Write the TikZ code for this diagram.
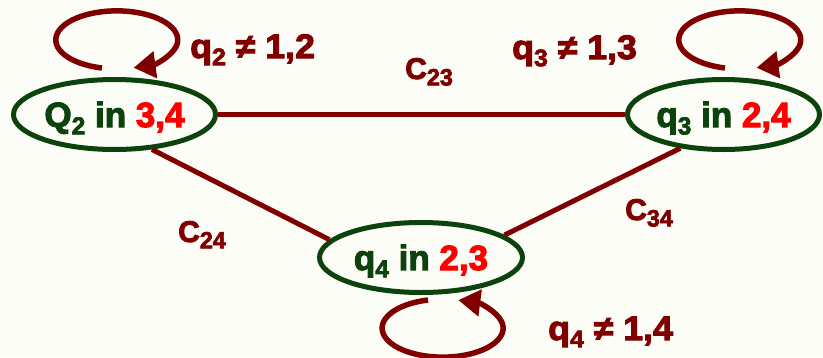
\documentclass[tikz,border=0pt]{standalone}
\usepackage{fontspec}
\setmainfont{Liberation Sans}
\newfontfamily\nodefont{Liberation Sans Bold}[FakeBold=3]
\newfontfamily\lblfont{Liberation Sans Bold}[FakeStretch=1.05, FakeBold=3]
\usetikzlibrary{shapes.geometric,arrows.meta}
\definecolor{maroon}{RGB}{128,0,0}
\definecolor{dgreen}{RGB}{12,66,12}
\definecolor{bgc}{RGB}{253,253,248}
\newcommand{\sub}[2][0.7]{\raisebox{-0.21em}{\scalebox{#1}{#2}}}
\newcommand{\hl}[1]{\textcolor{red}{#1}}
\tikzset{
  state/.style={ellipse, draw=dgreen, line width=5pt, inner sep=0pt,
    minimum height=70pt, text=dgreen, text height=25pt, text depth=0pt,
    font=\nodefont\fontsize{35}{38}\selectfont},
  conn/.style={draw=maroon, line width=5pt},
  selfloop/.style={draw=maroon, line width=5.5pt, -{Triangle[length=22pt,width=26pt]}},
  lbl/.style={text=maroon, anchor=base west, inner sep=0pt, font=\lblfont\fontsize{34}{36}\selectfont},
  clbl/.style={text=maroon, anchor=base west, inner sep=0pt, font=\nodefont\fontsize{30}{32}\selectfont}
}
\begin{document}
\begin{tikzpicture}[x=1pt,y=1pt]
\useasboundingbox[fill=bgc] (0,0) rectangle (823,-357);
\begin{scope}
\clip (0,0) rectangle (823,-357);
\node[state, minimum width=202pt] (Q2) at (114.5,-114.5) {Q\sub{2} in \hl{3,4}};
\node[state, minimum width=192pt] (q3) at (723.5,-114.5) {q\sub{3} in \hl{2,4}};
\node[state, minimum width=203pt] (q4) at (421,-257.5) {q\sub{4} in \hl{2,3}};
\draw[conn] (Q2.-0.5) -- (q3.180.5);
\draw[conn] (Q2.-43) -- (q4.169);
\draw[conn] (q3.218) -- (q4.15);
\draw[selfloop] (102,-68) arc[start angle=256, end angle=-74, x radius=61, y radius=29];
\draw[selfloop] (725,-68) arc[start angle=256, end angle=-74, x radius=61, y radius=29];
\draw[selfloop] (428,-300) arc[start angle=104, end angle=435, x radius=60.5, y radius=29];
\node[lbl] (l2) at (190,-58) {q\sub{2} ≠ 1,2};
\node[lbl] (l3) at (512,-59) {q\sub{3} ≠ 1,3};
\node[lbl] (l4) at (548,-340) {q\sub{4} ≠ 1,4};
\node[clbl] (c23) at (405,-79) {C\sub[0.78]{23}};
\node[clbl] (c24) at (178,-242) {C\sub[0.78]{24}};
\node[clbl] (c34) at (625,-220) {C\sub[0.78]{34}};
\end{scope}
\end{tikzpicture}
\end{document}
